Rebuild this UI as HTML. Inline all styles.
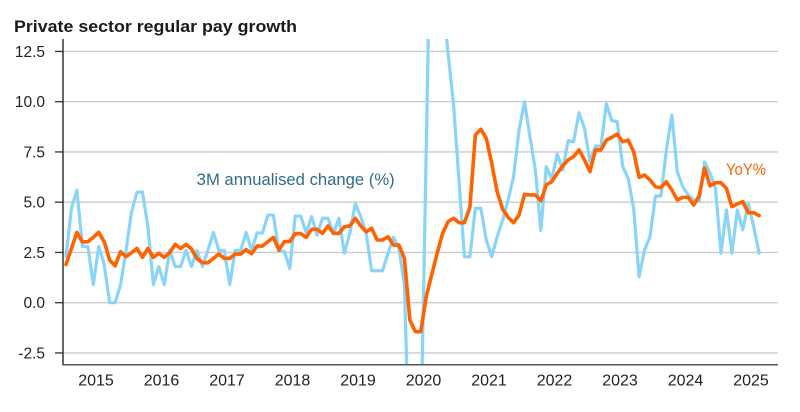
<!DOCTYPE html>
<html>
<head>
<meta charset="utf-8">
<style>
  html, body { margin: 0; padding: 0; background: #ffffff; width: 800px; height: 412px; overflow: hidden; }
  svg { display: block; }
  text { font-family: "Liberation Sans", Arial, sans-serif; }
</style>
</head>
<body>
<svg width="800" height="412" viewBox="0 0 800 412" xmlns="http://www.w3.org/2000/svg">
  <defs>
    <clipPath id="plot" clipPathUnits="userSpaceOnUse">
      <rect x="63" y="39" width="717" height="325"/>
    </clipPath>
  </defs>

  <!-- Title -->
  <text x="14" y="32" font-size="17" font-weight="bold" fill="#1a1a1a" textLength="283" lengthAdjust="spacingAndGlyphs">Private sector regular pay growth</text>

  <!-- Gridlines -->
  <g stroke="#cbcbcb" stroke-width="1.3">
    <line x1="63" y1="51.45" x2="778" y2="51.45"/>
    <line x1="63" y1="101.7" x2="778" y2="101.7"/>
    <line x1="63" y1="151.95" x2="778" y2="151.95"/>
    <line x1="63" y1="202.2" x2="778" y2="202.2"/>
    <line x1="63" y1="252.45" x2="778" y2="252.45"/>
    <line x1="63" y1="302.7" x2="778" y2="302.7"/>
    <line x1="63" y1="352.95" x2="778" y2="352.95"/>
  </g>

  <!-- Y ticks -->
  <g stroke="#333333" stroke-width="1.3">
    <line x1="55" y1="51.45" x2="63" y2="51.45"/>
    <line x1="55" y1="101.7" x2="63" y2="101.7"/>
    <line x1="55" y1="151.95" x2="63" y2="151.95"/>
    <line x1="55" y1="202.2" x2="63" y2="202.2"/>
    <line x1="55" y1="252.45" x2="63" y2="252.45"/>
    <line x1="55" y1="302.7" x2="63" y2="302.7"/>
    <line x1="55" y1="352.95" x2="63" y2="352.95"/>
  </g>

  <!-- Y labels -->
  <g font-size="15.5" fill="#222222" text-anchor="end">
    <text x="45" y="57">12.5</text>
    <text x="45" y="107.2">10.0</text>
    <text x="45" y="157.5">7.5</text>
    <text x="45" y="207.7">5.0</text>
    <text x="45" y="258">2.5</text>
    <text x="45" y="308.2">0.0</text>
    <text x="45" y="358.5">-2.5</text>
  </g>

  <!-- Series -->
  <g clip-path="url(#plot)">
    <polyline fill="none" stroke="#8ad4f8" stroke-width="3.2" stroke-linejoin="round" stroke-linecap="round" vector-effect="non-scaling-stroke"
      transform="translate(66,302.7) scale(5.458,-20.1)"
      points="0,2.3 1,4.7 2,5.6 3,2.8 4,2.8 5,0.9 6,2.8 7,1.9 8,0 9,0 10,0.9 11,2.6 12,4.5 13,5.5 14,5.5 15,3.8 16,0.9 17,1.8 18,0.9 19,2.6 20,1.8 21,1.8 22,2.6 23,1.8 24,2.6 25,1.8 26,2.6 27,3.5 28,2.6 29,2.6 30,0.9 31,2.6 32,2.6 33,3.5 34,2.6 35,3.47 36,3.47 37,4.36 38,4.36 39,2.56 40,2.56 41,1.71 42,4.31 43,4.31 44,3.48 45,4.28 46,3.37 47,4.2 48,4.2 49,3.45 50,4.2 51,2.46 52,3.45 53,4.94 54,4.28 55,3.45 56,1.59 57,1.59 58,1.59 59,2.46 60,3.25 61,2.7 62,0.9 62.45,-3.3 65.25,-3.3 66.39,13.3 69.68,13.3 70,12.4 71,9.9 72,6.1 73,2.29 74,2.29 75,4.7 76,4.7 77,3.12 78,2.29 79,3.28 80,4.1 81,5.11 82,6.27 83,8.59 84,10 85,8.26 86,6.6 87,3.6 88,6.77 89,6.15 90,7.4 91,6.6 92,8.06 93,8.01 94,9.45 95,8.68 96,7.01 97,7.8 98,7.76 99,9.89 100,9.06 101,9.01 102,6.77 103,6.19 104,4.7 105,1.29 106,2.62 107,3.28 108,5.31 109,5.31 110,7.6 111,9.34 112,6.52 113,5.77 114,5.36 115,5.11 116,5.03 117,7 118,6.44 119,5.69 120,2.46 121,4.61 122,2.46 123,4.61 124,3.62 125,4.94 126,3.78 127,2.46"/>
    <polyline fill="none" stroke="#ff6200" stroke-width="3.6" stroke-linejoin="round" stroke-linecap="round" vector-effect="non-scaling-stroke"
      transform="translate(66,302.7) scale(5.458,-20.1)"
      points="0,1.9 1,2.7 2,3.5 3,3.03 4,3.03 5,3.25 6,3.5 7,3.03 8,2.12 9,1.83 10,2.54 11,2.29 12,2.49 13,2.7 14,2.26 15,2.7 16,2.26 17,2.45 18,2.26 19,2.49 20,2.9 21,2.7 22,2.9 23,2.67 24,2.2 25,1.99 26,1.99 27,2.2 28,2.42 29,2.2 30,2.2 31,2.42 32,2.42 33,2.64 34,2.44 35,2.82 36,2.82 37,3.04 38,3.25 39,2.62 40,3.04 41,3.04 42,3.44 43,3.44 44,3.25 45,3.65 46,3.65 47,3.45 48,3.82 49,3.45 50,3.45 51,3.78 52,3.82 53,4.2 54,3.82 55,3.53 56,3.7 57,3.12 58,3.12 59,3.28 60,2.87 61,2.87 62,2.21 63,-0.86 64,-1.44 65,-1.44 66,0.3 67,1.38 68,2.46 69,3.45 70,4.03 71,4.2 72,3.98 73,3.98 74,4.75 75,8.34 76,8.63 77,8.18 78,6.93 79,5.52 80,4.65 81,4.25 82,3.98 83,4.36 84,5.39 85,5.36 86,5.36 87,5.07 88,5.86 89,6.02 90,6.44 91,6.8 92,7.1 93,7.27 94,7.6 95,7.1 96,6.52 97,7.6 98,7.6 99,8.09 100,8.23 101,8.39 102,8.01 103,8.09 104,7.51 105,6.24 106,6.35 107,6.1 108,5.77 109,5.72 110,6.02 111,5.61 112,5.11 113,5.24 114,5.24 115,4.86 116,5.31 117,6.69 118,5.81 119,5.97 120,5.97 121,5.69 122,4.78 123,4.91 124,5.03 125,4.48 126,4.48 127,4.33"/>
  </g>

  <!-- Axes -->
  <line x1="63" y1="39" x2="63" y2="365" stroke="#333333" stroke-width="1.5"/>
  <line x1="62.3" y1="364.8" x2="778" y2="364.8" stroke="#555555" stroke-width="1.5"/>

  <!-- X labels -->
  <g font-size="16" fill="#222222" text-anchor="middle">
    <text x="96" y="385.7">2015</text>
    <text x="161.5" y="385.7">2016</text>
    <text x="227" y="385.7">2017</text>
    <text x="292.5" y="385.7">2018</text>
    <text x="358" y="385.7">2019</text>
    <text x="423.5" y="385.7">2020</text>
    <text x="489" y="385.7">2021</text>
    <text x="554.5" y="385.7">2022</text>
    <text x="620" y="385.7">2023</text>
    <text x="685.5" y="385.7">2024</text>
    <text x="751" y="385.7">2025</text>
  </g>

  <!-- Series labels -->
  <text x="196.7" y="185" font-size="16.5" fill="#2f6b8c" textLength="198" lengthAdjust="spacingAndGlyphs">3M annualised change (%)</text>
  <text x="726" y="175" font-size="16.5" fill="#ff6200" textLength="40" lengthAdjust="spacingAndGlyphs">YoY%</text>
</svg>
</body>
</html>
